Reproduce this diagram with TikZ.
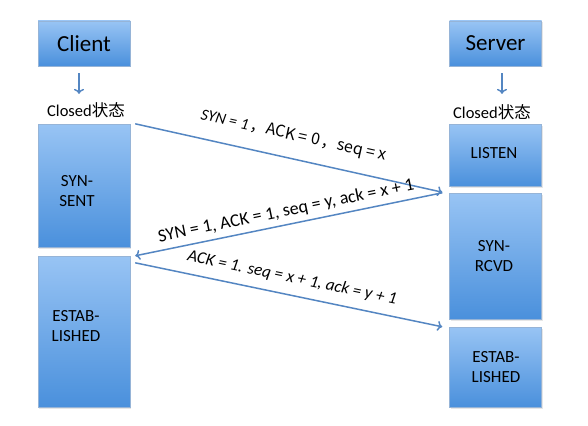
\documentclass[tikz,border=0pt]{standalone}
\usepackage{fontspec}
\setmainfont{Carlito}
\newfontfamily\cjk{Noto Sans CJK SC}
\usetikzlibrary{shadows, arrows.meta}

\definecolor{boxtop}{RGB}{152,196,244}
\definecolor{boxbottom}{RGB}{74,144,220}
\definecolor{boxline}{RGB}{150,180,215}
\definecolor{msgblue}{RGB}{84,134,194}

\tikzstyle{state box}=[rectangle, draw=boxline, top color=boxtop, bottom color=boxbottom, minimum width=92pt, inner sep=0pt, drop shadow={opacity=0.2, shadow xshift=1pt, shadow yshift=-1.5pt}]
\tikzstyle{head box}=[state box, minimum height=45pt, font=\fontsize{23}{26}\selectfont]
\tikzstyle{box text}=[align=center, font=\fontsize{17}{20}\selectfont, text=black]
\tikzstyle{closed}=[font=\fontsize{16.5}{18}\selectfont]
\tikzstyle{msg}=[draw=msgblue, line width=1.5pt, -{To[length=5pt, width=10pt]}]
\tikzstyle{msg text}=[font=\fontsize{17}{19}\selectfont, sloped, inner sep=0pt]

\begin{document}
\begin{tikzpicture}[x=1pt, y=-1pt]
					\useasboundingbox (0,0) rectangle (588,425);

					% Client side
					\node[head box] (client) at (84,43.5) {Client};
					\node[closed] (cclosed) at (86,110) {Closed\cjk{状态}};
					\node[state box, minimum height=123pt] (sent) at (84,185.5) {};
					\node[state box, minimum height=151pt] (cest) at (84,331.5) {};
					\node[box text] (senttext) at (77,191) {SYN-\\SENT};
					\node[box text] (cesttext) at (76,326) {ESTAB-\\LISHED};

					% Server side
					\node[head box] (server) at (495.5,43.5) {Server};
					\node[closed] (sclosed) at (492,112) {Closed\cjk{状态}};
					\node[state box, minimum height=62pt] (listen) at (495.5,155) {};
					\node[state box, minimum height=126pt] (rcvd) at (495.5,256) {};
					\node[state box, minimum height=80pt] (sest) at (495.5,367) {};
					\node[box text] (listentext) at (494,153) {LISTEN};
					\node[box text] (rcvdtext) at (494,256) {SYN-\\RCVD};
					\node[box text] (sesttext) at (496,367) {ESTAB-\\LISHED};

					\draw[msg] ([xshift=-5pt, yshift=-7pt]client.south) -- ([xshift=-5pt, yshift=5pt]client.south |- cclosed.north);
					\draw[msg] ([xshift=6.5pt, yshift=-7pt]server.south) -- ([xshift=6.5pt, yshift=7pt]server.south |- sclosed.north);

					% Handshake messages
					\draw[msg] ([xshift=5pt]sent.north east) -- ([xshift=-7pt, yshift=-6pt]listen.south west)
						node[msg text, midway, above=14pt, font=\fontsize{16}{19}\selectfont\itshape] (syn) {SYN = 1\kern2pt\cjk{，}ACK = 0\kern2pt\cjk{，}seq = x};
					\draw[msg] ([xshift=-7pt]rcvd.north west) -- ([xshift=5pt]cest.north east)
						node[msg text, midway, above=5pt, font=\fontsize{18}{20}\selectfont] (synack) {SYN = 1, ACK = 1, seq = y, ack = x + 1};
					\draw[msg] ([xshift=5pt, yshift=-7pt]cest.north east) -- ([xshift=-7pt]sest.north west)
						node[msg text, midway, above=9pt, font=\fontsize{17}{19}\selectfont\itshape] (ack) {ACK = 1. seq = x + 1, ack = y + 1};
				\end{tikzpicture}
\end{document}
